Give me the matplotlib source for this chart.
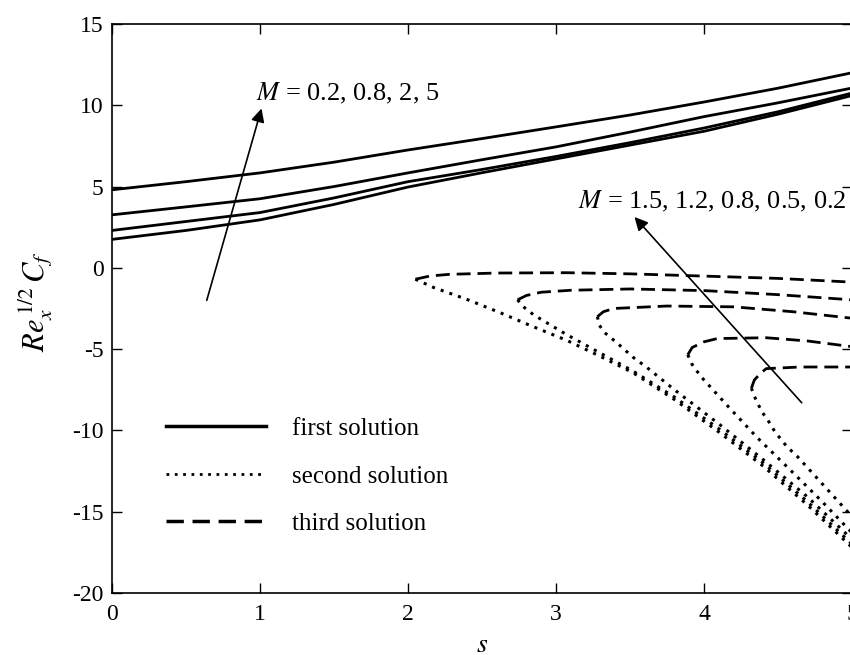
import numpy as np
import matplotlib
matplotlib.use('Agg')
import matplotlib.pyplot as plt

plt.rcParams['font.family'] = ['Liberation Serif', 'DejaVu Serif']
plt.rcParams['mathtext.fontset'] = 'stix'
plt.rcParams['axes.unicode_minus'] = False

# first solution, M = 0.2, 0.8, 2, 5
s_first = [0, 0.5, 1, 1.5, 2, 2.5, 3, 3.5, 4, 4.5, 5]
first_m02 = [1.75, 2.3, 2.95, 3.9, 4.97, 5.85, 6.7, 7.55, 8.4, 9.45, 10.6]
first_m08 = [2.3, 2.85, 3.4, 4.3, 5.3, 6.05, 6.85, 7.7, 8.6, 9.6, 10.75]
first_m2 = [3.26, 3.75, 4.25, 5.0, 5.84, 6.65, 7.44, 8.35, 9.3, 10.15, 11.06]
first_m5 = [4.8, 5.3, 5.84, 6.5, 7.25, 7.95, 8.67, 9.4, 10.2, 11.05, 12.0]

# second solution (lower branch), M = 0.2, 0.5, 0.8, 1.2, 1.5
s2_m02 = [2.05, 2.17, 2.4, 2.62, 2.84, 3.07, 3.3, 3.52, 3.8, 4.1, 4.4, 4.7, 5.0]
y2_m02 = [-0.7, -1.2, -1.95, -2.75, -3.6, -4.45, -5.45, -6.45, -8.1, -10.1, -12.2, -14.6, -17.2]
s2_m05 = [2.74, 2.78, 2.85, 3.07, 3.3, 3.52, 3.8, 4.1, 4.4, 4.7, 5.0]
y2_m05 = [-1.97, -2.4, -2.9, -4.1, -5.25, -6.35, -7.95, -9.9, -12.0, -14.4, -17.0]
s2_m08 = [3.28, 3.29, 3.33, 3.41, 3.52, 3.61, 3.8, 4.1, 4.4, 4.7, 5.0]
y2_m08 = [-3.0, -3.5, -4.0, -4.6, -5.5, -6.1, -7.5, -9.6, -11.8, -14.1, -16.7]
s2_m12 = [3.89, 3.92, 3.98, 4.06, 4.16, 4.36, 4.59, 4.8, 5.0]
y2_m12 = [-5.35, -5.95, -6.7, -7.5, -8.5, -10.45, -12.5, -14.4, -16.3]
s2_m15 = [4.32, 4.34, 4.39, 4.43, 4.48, 4.56, 4.63, 4.7, 4.85, 5.0]
y2_m15 = [-7.4, -7.9, -8.85, -9.35, -10.1, -11.0, -11.6, -12.3, -13.8, -15.3]

# third solution (upper branch)
s3_m02 = [2.05, 2.15, 2.28, 2.6, 3.07, 3.5, 3.97, 4.5, 5.0]
y3_m02 = [-0.7, -0.5, -0.4, -0.32, -0.3, -0.37, -0.5, -0.65, -0.88]
s3_m05 = [2.74, 2.8, 2.9, 3.1, 3.5, 4.0, 4.5, 5.0]
y3_m05 = [-1.97, -1.7, -1.5, -1.38, -1.3, -1.4, -1.65, -1.97]
s3_m08 = [3.28, 3.32, 3.39, 3.75, 4.2, 4.6, 5.0]
y3_m08 = [-3.0, -2.7, -2.5, -2.35, -2.4, -2.7, -3.1]
s3_m12 = [3.89, 3.92, 4.0, 4.09, 4.42, 4.7, 5.0]
y3_m12 = [-5.35, -4.9, -4.55, -4.35, -4.3, -4.5, -4.85]
s3_m15 = [4.32, 4.34, 4.38, 4.42, 4.65, 5.0]
y3_m15 = [-7.4, -6.9, -6.5, -6.2, -6.1, -6.1]

fig = plt.figure(figsize=(8.5, 6.55), dpi=100)
ax = fig.add_axes([0.1318, 0.0947, 0.8706, 0.8687])

lw = 2.0
dash = (0, (5, 2.5))
dot = (0, (1, 2))

for y in [first_m02, first_m08, first_m2, first_m5]:
    ax.plot(s_first, y, color='k', lw=lw)
for s, y in [(s2_m02, y2_m02), (s2_m05, y2_m05), (s2_m08, y2_m08), (s2_m12, y2_m12), (s2_m15, y2_m15)]:
    ax.plot(s, y, color='k', lw=lw + 0.2, linestyle=dot)
for s, y in [(s3_m02, y3_m02), (s3_m05, y3_m05), (s3_m08, y3_m08), (s3_m12, y3_m12), (s3_m15, y3_m15)]:
    ax.plot(s, y, color='k', lw=lw, linestyle=dash)

# legend handles
h1, = ax.plot([], [], color='k', lw=lw + 0.5)
h2, = ax.plot([], [], color='k', lw=lw, linestyle=dot)
h3, = ax.plot([], [], color='k', lw=lw + 0.5, linestyle=dash)
ax.legend([h1, h2, h3], ['first solution', 'second solution', 'third solution'],
          loc='upper left', bbox_to_anchor=(0.073, 0.308), frameon=False,
          fontsize=18, handlelength=4.0, handletextpad=1.05, labelspacing=1.0,
          borderpad=0, borderaxespad=0)

ax.annotate('', xy=(1.01, 9.8), xytext=(0.64, -2.0),
            arrowprops=dict(arrowstyle='-|>', color='k', lw=1.2, mutation_scale=20,
                            shrinkA=0, shrinkB=0))
ax.text(0.97, 10.7, r'$M$ = 0.2, 0.8, 2, 5', fontsize=19, ha='left', va='center')

ax.annotate('', xy=(3.53, 3.13), xytext=(4.66, -8.3),
            arrowprops=dict(arrowstyle='-|>', color='k', lw=1.2, mutation_scale=20,
                            shrinkA=0, shrinkB=0))
ax.text(3.15, 4.06, r'$M$ = 1.5, 1.2, 0.8, 0.5, 0.2', fontsize=19, ha='left', va='center')

ax.set_xlim(0, 5)
ax.set_ylim(-20, 15)
ax.set_xticks([0, 1, 2, 3, 4, 5])
ax.set_yticks([-20, -15, -10, -5, 0, 5, 10, 15])
ax.tick_params(direction='in', length=7, width=1, top=True, right=True, labelsize=17)
ax.tick_params(axis='x', pad=8)
ax.tick_params(axis='y', pad=6)
for sp in ax.spines.values():
    sp.set_linewidth(1.2)

ax.set_xlabel(r'$s$', fontsize=20, labelpad=5.5)
ax.set_ylabel(r'$Re_x^{\,1/2}\,C_f$', fontsize=22)
ax.yaxis.set_label_coords(-0.077, 0.513)

fig.savefig('out.png', dpi=100)
